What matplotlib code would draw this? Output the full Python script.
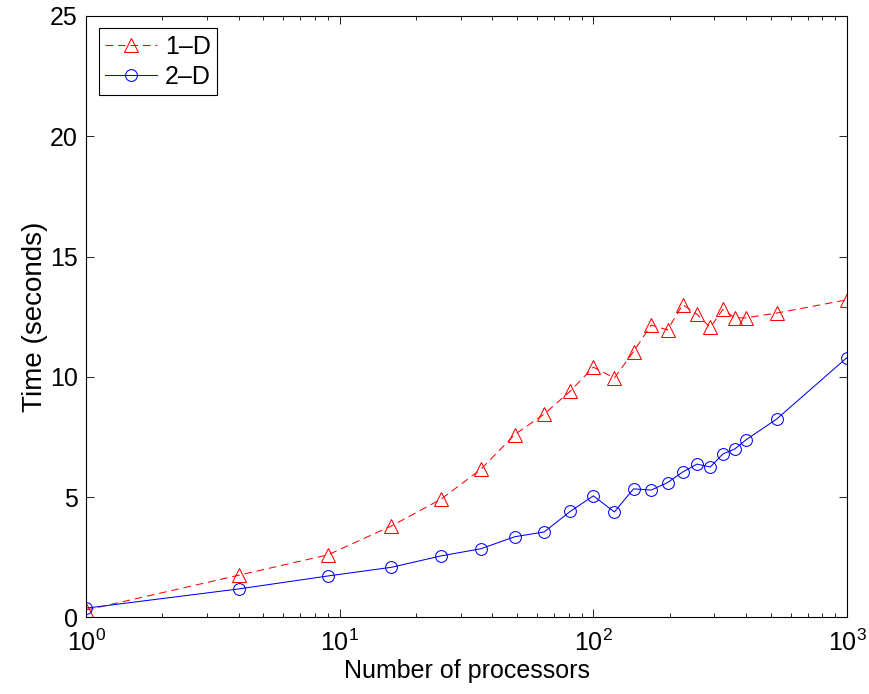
import numpy as np
import matplotlib
matplotlib.use("Agg")
import matplotlib.pyplot as plt
from matplotlib.ticker import LogLocator

plt.rcParams['font.family'] = ['Liberation Sans', 'DejaVu Sans']
plt.rcParams['lines.scale_dashes'] = False

# Number of processors (perfect squares, plus the largest run)
procs = [1, 4, 9, 16, 25, 36, 49, 64, 81, 100, 121, 144, 169, 196,
         225, 256, 289, 324, 361, 400, 529, 1000]

# Time (seconds) for each decomposition
time_1d = [0.3, 1.75, 2.6, 3.8, 4.9, 6.15, 7.6, 8.45, 9.4, 10.4, 9.95, 11.05,
           12.15, 11.95, 13.0, 12.6, 12.05, 12.8, 12.45, 12.45, 12.65, 13.2]
time_2d = [0.38, 1.18, 1.72, 2.08, 2.55, 2.85, 3.35, 3.55, 4.4, 5.05, 4.38, 5.34,
           5.29, 5.6, 6.04, 6.37, 6.25, 6.79, 7.0, 7.38, 8.25, 10.8]

fig = plt.figure(figsize=(8.7, 6.94), dpi=100)
ax = fig.add_axes([0.0989, 0.1105, 0.8747, 0.8665])

ax.plot(procs, time_1d, color='red', linestyle=(0, (5.5, 3.5)), linewidth=0.75,
        marker='^', markersize=9.5, markerfacecolor='none', markeredgecolor='red',
        markeredgewidth=0.75, label='1\u2013D')
ax.plot(procs, time_2d, color='blue', linestyle='-', linewidth=0.75,
        marker='o', markersize=8.5, markerfacecolor='none', markeredgecolor='blue',
        markeredgewidth=0.75, label='2\u2013D')

ax.set_xscale('log')
ax.set_xlim(1, 1000)
ax.set_ylim(0, 25)
ax.set_yticks([0, 5, 10, 15, 20, 25])
ax.xaxis.set_minor_locator(LogLocator(base=10, subs=np.arange(2, 10)))

ax.tick_params(which='both', direction='in', top=True, right=True,
               labelsize=18, width=0.6, colors='black')
ax.tick_params(which='major', length=6)
ax.tick_params(which='minor', length=3)
ax.tick_params(axis='x', which='major', pad=9)
ax.tick_params(axis='y', which='major', pad=6)
for s in ax.spines.values():
    s.set_linewidth(0.8)

ax.set_xlabel('Number of processors', fontsize=18, labelpad=2)
ax.set_ylabel('Time (seconds)', fontsize=20, labelpad=1)

leg = ax.legend(loc='upper left', fontsize=18, fancybox=False, edgecolor='black',
                framealpha=1, borderaxespad=0.5, handlelength=2.1,
                handletextpad=0.3, borderpad=0.25, labelspacing=0.25)
leg.get_frame().set_linewidth(0.8)

fig.savefig('out.png', dpi=100)
